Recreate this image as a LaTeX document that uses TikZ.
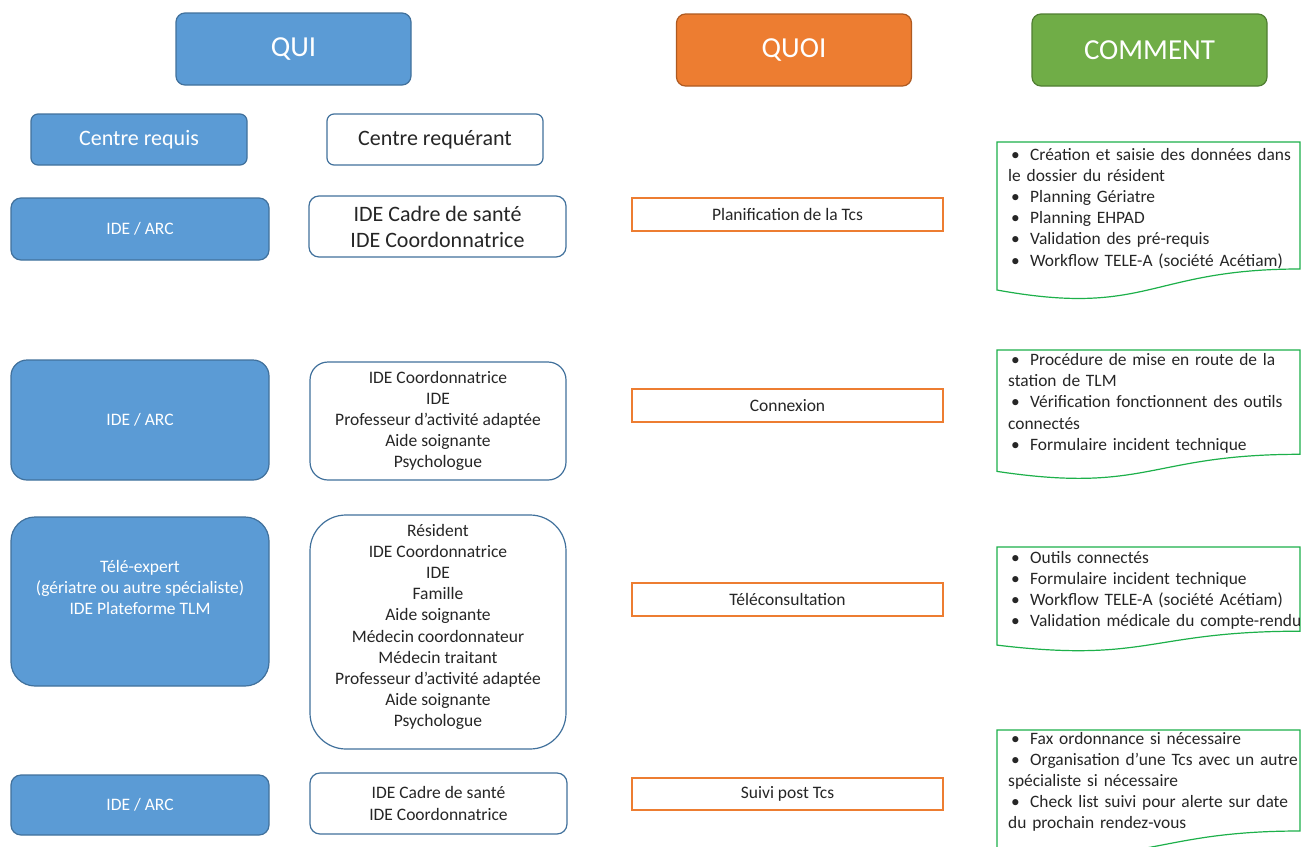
\documentclass[tikz,border=0pt]{standalone}
\usepackage{fontspec}
\setmainfont{Carlito}
\definecolor{quiblue}{HTML}{5B9BD5}
\definecolor{quiedge}{HTML}{41719C}
\definecolor{quoiorange}{HTML}{ED7D31}
\definecolor{quoiedge}{HTML}{AE5A21}
\definecolor{commentgreen}{HTML}{70AD47}
\definecolor{commentedge}{HTML}{507E32}
\definecolor{docgreen}{HTML}{1DB04A}
\definecolor{inktext}{HTML}{262626}
\newcommand{\puce}{\hspace*{3pt}\makebox[19pt][l]{•}}
\tikzstyle{header} = [
    rectangle,
    rounded corners=9pt,
    minimum width=235pt,
    minimum height=72pt,
    text=white,
    line width=1.2pt,
    font=\fontsize{29}{33}\selectfont
]
\tikzstyle{requis} = [
    rectangle,
    fill=quiblue,
    draw=quiedge,
    text=white,
    align=center,
    line width=1.2pt,
    font=\fontsize{17.5}{21.2}\selectfont
]
\tikzstyle{requerant} = [
    rectangle,
    fill=white,
    draw=quiedge,
    text=inktext,
    align=center,
    line width=1.2pt,
    font=\fontsize{17.5}{21.2}\selectfont
]
\tikzstyle{quoibox} = [
    rectangle,
    draw=quoiorange,
    minimum width=311pt,
    minimum height=33pt,
    text=inktext,
    line width=1.2pt,
    font=\fontsize{17.5}{21}\selectfont
]
\tikzstyle{docbox} = [draw=docgreen, line width=1.2pt, fill=white]
\tikzstyle{doctext} = [
    anchor=base west,
    inner sep=0pt,
    text width=300pt,
    align=left,
    text=inktext,
    font=\fontsize{17.4}{21.2}\selectfont
]

\begin{document}
\begin{tikzpicture}[x=1pt, y=-1pt]
\clip (0,0) rectangle (1301,846);
\fill[white] (0,0) rectangle (1301,846);

% en-tetes
\node (qui) [header, fill=quiblue, draw=quiedge] at (293.5,49) {QUI};
\node (quoi) [header, fill=quoiorange, draw=quoiedge] at (794,50) {QUOI};
\node (comment) [header, fill=commentgreen, draw=commentedge] at (1149.5,50) {COMMENT};

\node (centrerequis) [requis, rounded corners=7pt, minimum width=216pt, minimum height=51pt,
    font=\fontsize{22}{26}\selectfont] at (139,139.5) {Centre requis};
\node (centrerequerant) [requerant, rounded corners=7pt, minimum width=216pt, minimum height=51pt,
    font=\fontsize{22}{26}\selectfont] at (435,139.5) {Centre requérant};

% planification
\node (requisA) [requis, rounded corners=10pt, minimum width=258pt, minimum height=62pt]
    at (140,229) {IDE / ARC};
\node (requerantA) [requerant, rounded corners=10pt, minimum width=257pt, minimum height=61pt,
    font=\fontsize{22}{26}\selectfont] at (437.5,226.5)
    {IDE Cadre de santé\\IDE Coordonnatrice};
\node (planif) [quoibox] at (787.5,214.5) {Planification de la Tcs};

% connexion
\node (requisB) [requis, rounded corners=16pt, minimum width=258pt, minimum height=120pt]
    at (140,420) {IDE / ARC};
\node (requerantB) [requerant, rounded corners=18pt, minimum width=256pt, minimum height=118pt]
    at (438,421)
    {IDE Coordonnatrice\\IDE\\Professeur d’activité adaptée\\Aide soignante\\Psychologue};
\node (connexion) [quoibox] at (787.5,405.5) {Connexion};

% teleconsultation
\node (requisC) [requis, rounded corners=24pt, minimum width=258pt, minimum height=169pt,
    text depth=28pt] at (140,601.5)
    {Télé-expert\\(gériatre ou autre spécialiste)\\IDE Plateforme TLM};
\node (requerantC) [requerant, rounded corners=36pt, minimum width=256pt, minimum height=234pt,
    text depth=13pt] at (438,632)
    {Résident\\IDE Coordonnatrice\\IDE\\Famille\\Aide soignante\\Médecin coordonnateur\\
     Médecin traitant\\Professeur d’activité adaptée\\Aide soignante\\Psychologue};
\node (telecons) [quoibox] at (787.5,599.5) {Téléconsultation};

% suivi
\node (requisD) [requis, rounded corners=10pt, minimum width=258pt, minimum height=60pt]
    at (140,805) {IDE / ARC};
\node (requerantD) [requerant, rounded corners=10pt, minimum width=257pt, minimum height=61pt]
    at (438.5,803.5) {IDE Cadre de santé\\IDE Coordonnatrice};
\node (suivi) [quoibox, minimum height=32pt] at (787.5,794) {Suivi post Tcs};

% colonne comment
\draw[docbox] (997,142) -- (1300,142) -- (1300,269)
    .. controls (1148.5,269) and (1148.5,317.6) .. (997,290) -- cycle;
\node (docA) [doctext] at (1008,160)
    {\puce Création et saisie des données dans\\
     le dossier du résident\\
     \puce Planning Gériatre\\
     \puce Planning EHPAD\\
     \puce Validation des pré-requis\\
     \puce Workflow TELE-A (société Acétiam)};

\draw[docbox] (997,350) -- (1300,350) -- (1300,454.3)
    .. controls (1148.5,454.3) and (1148.5,494) .. (997,471.4) -- cycle;
\node (docB) [doctext] at (1008,365.5)
    {\puce Procédure de mise en route de la\\
     station de TLM\\
     \puce Vérification fonctionnent des outils\\
     connectés\\
     \puce Formulaire incident technique};

\draw[docbox] (997,547) -- (1300,547) -- (1300,631.2)
    .. controls (1148.5,631.2) and (1148.5,663.3) .. (997,645.1) -- cycle;
\node (docC) [doctext] at (1008,563)
    {\puce Outils connectés\\
     \puce Formulaire incident technique\\
     \puce Workflow TELE-A (société Acétiam)\\
     \puce Validation médicale du compte-rendu};

\draw[docbox] (997,730) -- (1300,730) -- (1300,831)
    .. controls (1148.5,831) and (1148.5,869.6) .. (997,847.7) -- cycle;
\node (docD) [doctext] at (1008,744)
    {\puce Fax ordonnance si nécessaire\\
     \puce Organisation d’une Tcs avec un autre\\
     spécialiste si nécessaire\\
     \puce Check list suivi pour alerte sur date\\
     du prochain rendez-vous};

\end{tikzpicture}
\end{document}
